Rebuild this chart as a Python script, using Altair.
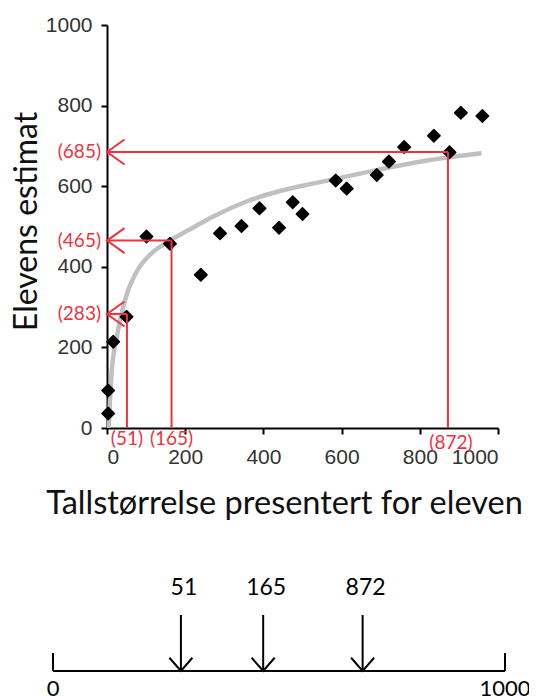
import altair as alt
import pandas as pd

# --- data ---
x_vals = [3, 3, 16, 50, 101, 161, 240, 289, 344, 390, 440, 475, 500, 585, 613, 690, 721, 760, 836, 876, 905, 960]
y_vals = [36, 93, 214, 276, 475, 457, 380, 483, 501, 545, 497, 560, 531, 614, 594, 628, 661, 697, 725, 684, 782, 774]

curve_x = [4, 12, 25, 35, 50, 80, 110, 161, 225, 272, 357, 442, 545, 656, 741, 826, 958]
curve_y = [0, 140, 225, 275, 330, 395, 430, 465, 500, 525, 562, 588, 610, 633, 650, 665, 682]

actual = [51, 165, 872]
estimate = [283, 465, 685]
axis_ticks = [0, 200, 400, 600, 800, 1000]
line_ends = [0, 1000]

RED = "#ee3340"
ARROW_LEFT = "M1.4,-1 L0,0 L1.4,1"
ARROW_DOWN = "M-1,-1.15 L0,0 L1,-1.15"

pts = pd.DataFrame({"x": x_vals, "y": y_vals})
curve = pd.DataFrame({"x": curve_x, "y": curve_y})
ann = pd.DataFrame({
    "actual": actual,
    "est": estimate,
    "est_lbl": [f"({v})" for v in estimate],
    "act_lbl": [f"({v})" for v in actual],
    "num_lbl": [str(v) for v in actual],
})
ends = pd.DataFrame({"v": line_ends, "lbl": [str(v) for v in line_ends]})
seg = pd.DataFrame({"start": [line_ends[0]], "end": [line_ends[1]]})

xs = alt.Scale(domain=[0, 1000], nice=False)
ys = alt.Scale(domain=[0, 1000], nice=False)

x_axis = alt.Axis(values=axis_ticks, format="d", title="Tallstørrelse presentert for eleven",
                  labelPadding=12, titlePadding=20, titleFontSize=32.5,
                  titleX=177, titleAlign="center")
y_axis = alt.Axis(values=axis_ticks, format="d", title="Elevens estimat",
                  labelPadding=9, titlePadding=2, titleFontSize=32,
                  titleY=196, titleAlign="center")

curve_layer = alt.Chart(curve).mark_line(
    color="#c0c0c0", strokeWidth=4.5, interpolate="monotone", clip=True
).encode(
    x=alt.X("x:Q", scale=xs, axis=x_axis),
    y=alt.Y("y:Q", scale=ys, axis=y_axis),
)

pts_layer = alt.Chart(pts).mark_point(
    shape="diamond", filled=True, size=155, color="black", opacity=1,
    stroke="black", strokeWidth=1.5, strokeJoin="round"
).encode(x="x:Q", y="y:Q")

annz = alt.Chart(ann).transform_calculate(zero="0")

h_rules = annz.mark_rule(color=RED, strokeWidth=2).encode(
    x="zero:Q", x2="actual:Q", y="est:Q")
v_rules = annz.mark_rule(color=RED, strokeWidth=2).encode(
    x="actual:Q", y="zero:Q", y2="est:Q")
heads = annz.mark_point(
    shape=ARROW_LEFT, filled=False, size=625, color=RED, strokeWidth=2, opacity=1
).encode(x="zero:Q", y="est:Q")
y_lbls = annz.mark_text(
    align="right", baseline="middle", dx=-6, font="Lato", fontSize=19, color=RED
).encode(x="zero:Q", y="est:Q", text="est_lbl:N")
x_lbls_a = annz.transform_filter("datum.actual < 500").mark_text(
    align="center", baseline="middle", dy=11, font="Lato", fontSize=19, color=RED
).encode(x="actual:Q", y="zero:Q", text="act_lbl:N")
x_lbls_b = annz.transform_filter("datum.actual >= 500").mark_text(
    align="center", baseline="middle", dy=15, dx=3, font="Lato", fontSize=19, color=RED
).encode(x="actual:Q", y="zero:Q", text="act_lbl:N")

top = alt.layer(curve_layer, pts_layer, h_rules, v_rules, heads, y_lbls, x_lbls_a, x_lbls_b)

# --- number line below (own x scale) ---
nx = alt.Scale(domain=[0, 1000], range=[-54, 398])
n_line = alt.Chart(seg).mark_rule(color="black", strokeWidth=2).encode(
    x=alt.X("start:Q", scale=nx, axis=None), x2="end:Q", y=alt.value(646))
n_ticks = alt.Chart(ends).mark_rule(color="black", strokeWidth=2).encode(
    x=alt.X("v:Q", scale=nx, axis=None), y=alt.value(628), y2=alt.value(646))
n_end_lbls = alt.Chart(ends).mark_text(
    font="Lato", fontSize=22, baseline="middle", align="center", dx=0, color="black"
).encode(x=alt.X("v:Q", scale=nx, axis=None), y=alt.value(664), text="lbl:N")
n_arrows = alt.Chart(ann).mark_rule(color="black", strokeWidth=2).encode(
    x=alt.X("est:Q", scale=nx, axis=None), y=alt.value(590), y2=alt.value(646))
n_heads = alt.Chart(ann).mark_point(
    shape=ARROW_DOWN, filled=False, size=529, color="black", strokeWidth=2, opacity=1
).encode(x=alt.X("est:Q", scale=nx, axis=None), y=alt.value(646))
n_lbls = alt.Chart(ann).mark_text(
    font="Lato", fontSize=23, baseline="middle", align="center", dx=3, color="black"
).encode(x=alt.X("est:Q", scale=nx, axis=None), y=alt.value(563), text="num_lbl:N")

bottom = alt.layer(n_line, n_ticks, n_end_lbls, n_arrows, n_heads, n_lbls)

chart = alt.layer(top, bottom).resolve_scale(x="independent").properties(
    width=391, height=403,
    autosize=alt.AutoSizeParams(type="none"),
    padding={"left": 99, "top": 17, "right": 31, "bottom": 272},
    background="white",
).configure_view(stroke=None).configure_axis(
    grid=False,
    domainColor="black", domainWidth=2,
    tickColor="black", tickWidth=2, tickSize=6,
    labelFont="Liberation Sans", labelFontSize=21, labelColor="#333333",
    titleFont="Lato", titleFontWeight="normal", titleColor="#111111",
)

chart.save("out.html", embed_options={"renderer": "svg", "actions": False})
